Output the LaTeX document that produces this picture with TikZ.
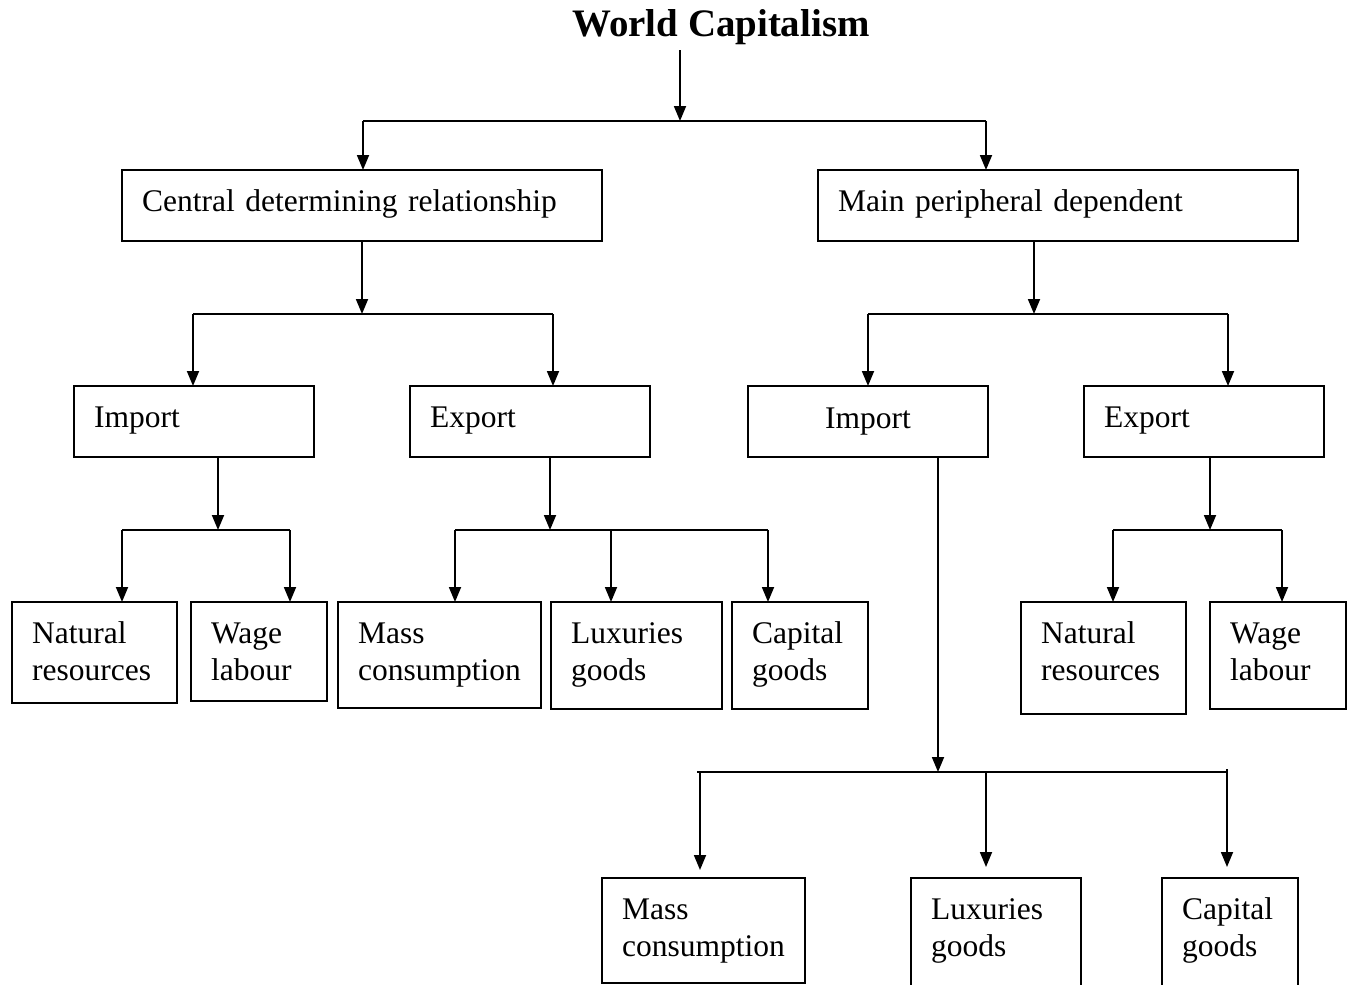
\documentclass[tikz,border=0pt]{standalone}
\usepackage{fontspec}
\setmainfont{Liberation Serif}
\usetikzlibrary{arrows.meta}
\newcommand{\bx}[6]{%
  \node[box, minimum width=#4pt, minimum height=#5pt] (#1) at (#2,#3) {};
  \node[boxtext] (#1T) at ([shift={(20,41)}]#1.north west) {#6};
}
\begin{document}
\begin{tikzpicture}[x=1pt,y=-1pt,
 box/.style={draw, line width=1.8pt, anchor=north west, inner sep=0pt, outer sep=0pt},
 boxtext/.style={anchor=base west, inner sep=0pt, text width=460pt, align=left, font=\fontsize{31.5}{37}\selectfont},
 conn/.style={line width=1.8pt},
 arr/.style={conn, -{Triangle[length=15pt,width=12pt]}},
]
\useasboundingbox (0,0) rectangle (1352,985);
\clip (0,0) rectangle (1352,985);
\node[font=\bfseries\fontsize{38.9}{40}\selectfont, anchor=base] (title) at (721,36) {World Capitalism};

% level 1
\bx{central}{122}{170}{480}{71}{Central determining relationship}
\bx{main}{818}{170}{480}{71}{Main peripheral dependent}
% level 2
\bx{impL}{74}{386}{240}{71}{Import}
\bx{expL}{410}{386}{240}{71}{Export}
\node[box, minimum width=240pt, minimum height=71pt] (impR) at (748,386) {};
\node[font=\fontsize{31.5}{37}\selectfont, anchor=base, inner sep=0pt] (impRT) at ([shift={(0,42)}]impR.north) {Import};
\bx{expR}{1084}{386}{240}{71}{Export}
% level 3
\bx{natL}{12}{602}{165}{101}{Natural\\resources}
\bx{wageL}{191}{602}{136}{99}{Wage\\labour}
\bx{massL}{338}{602}{203}{106}{Mass\\consumption}
\bx{luxL}{551}{602}{171}{107}{Luxuries\\goods}
\bx{capL}{732}{602}{136}{107}{Capital\\goods}
\bx{natR}{1021}{602}{165}{112}{Natural\\resources}
\bx{wageR}{1210}{602}{136}{107}{Wage\\labour}
% bottom row
\bx{massB}{602}{878}{203}{105}{Mass\\consumption}
\bx{luxB}{911}{878}{170}{115}{Luxuries\\goods}
\bx{capB}{1162}{878}{136}{115}{Capital\\goods}

% junction coordinates
\coordinate (t0) at (680,50);
\coordinate (j0) at (680,121);
\coordinate (j0a) at (363,121);
\coordinate (j0b) at (986,121);
\coordinate (j1) at (362,314);
\coordinate (j1a) at (193,314);
\coordinate (j1b) at (553,314);
\coordinate (j2) at (1034,314);
\coordinate (j2a) at (868,314);
\coordinate (j2b) at (1228,314);
\coordinate (j3) at (218,530);
\coordinate (j3a) at (122,530);
\coordinate (j3b) at (290,530);
\coordinate (j4) at (550,530);
\coordinate (j4a) at (455,530);
\coordinate (j4b) at (611,530);
\coordinate (j4c) at (768,530);
\coordinate (j5) at (1210,530);
\coordinate (j5a) at (1113,530);
\coordinate (j5b) at (1282,530);
\coordinate (j6) at (938,772);
\coordinate (j6l) at (697,772);
\coordinate (j6a) at (700,772);
\coordinate (j6b) at (986,772);
\coordinate (j6c) at (1227,772);
\coordinate (j6t) at (1227,769);

% connectors
\draw[arr] (t0) -- (j0);
\draw[conn] (j0a) -- (j0b);
\draw[arr] (j0a) -- (j0a |- central.north);
\draw[arr] (j0b) -- (j0b |- main.north);

\draw[arr] (central.south -| j1) -- (j1);
\draw[conn] (j1a) -- (j1b);
\draw[arr] (j1a) -- (j1a |- impL.north);
\draw[arr] (j1b) -- (j1b |- expL.north);

\draw[arr] (main.south -| j2) -- (j2);
\draw[conn] (j2a) -- (j2b);
\draw[arr] (j2a) -- (j2a |- impR.north);
\draw[arr] (j2b) -- (j2b |- expR.north);

\draw[arr] (impL.south -| j3) -- (j3);
\draw[conn] (j3a) -- (j3b);
\draw[arr] (j3a) -- (j3a |- natL.north);
\draw[arr] (j3b) -- (j3b |- wageL.north);

\draw[arr] (expL.south -| j4) -- (j4);
\draw[conn] (j4a) -- (j4c);
\draw[arr] (j4a) -- (j4a |- massL.north);
\draw[arr] (j4b) -- (j4b |- luxL.north);
\draw[arr] (j4c) -- (j4c |- capL.north);

\draw[arr] (expR.south -| j5) -- (j5);
\draw[conn] (j5a) -- (j5b);
\draw[arr] (j5a) -- (j5a |- natR.north);
\draw[arr] (j5b) -- (j5b |- wageR.north);

\draw[arr] (impR.south -| j6) -- (j6);
\draw[conn] (j6l) -- (j6c);
\draw[arr, shorten >=8pt] (j6a) -- (j6a |- massB.north);
\draw[arr, shorten >=11pt] (j6b) -- (j6b |- luxB.north);
\draw[arr, shorten >=11pt] (j6t) -- (j6t |- capB.north);
\end{tikzpicture}
\end{document}
